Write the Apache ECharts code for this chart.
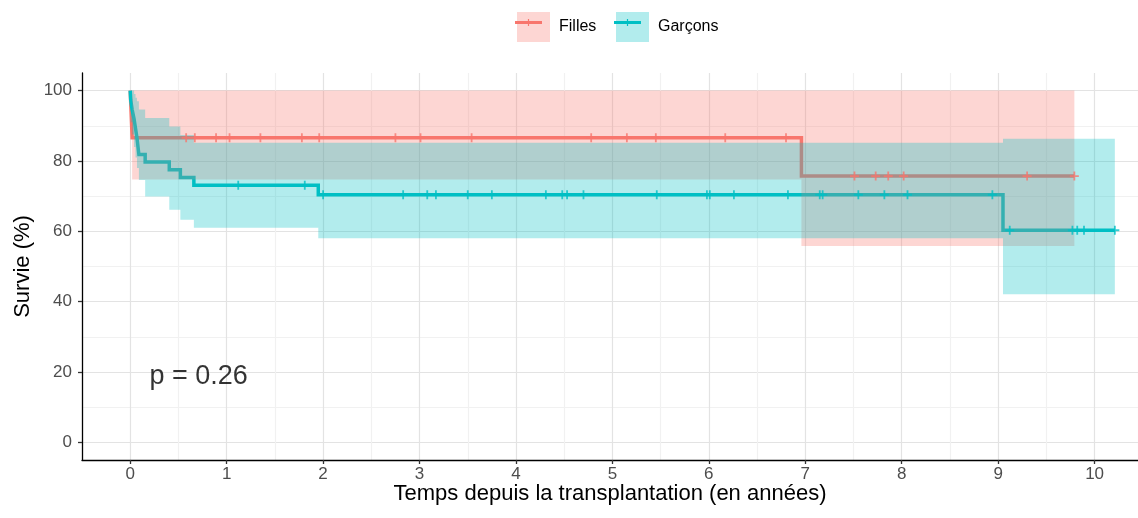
<!DOCTYPE html>
<html>
<head>
<meta charset="utf-8">
<script src="https://cdn.jsdelivr.net/npm/echarts@6/dist/echarts.min.js"></script>
<style>html,body{margin:0;padding:0;background:#fff}#c{width:1138px;height:518px}</style>
</head>
<body>
<div id="c"></div>
<script>
// ---- data ----
const groups = ['Filles', 'Garçons'];
const xTicks = [0, 1, 2, 3, 4, 5, 6, 7, 8, 9, 10];
const yTicks = [0, 20, 40, 60, 80, 100];

// Filles : Kaplan-Meier steps (time in years, survival %)
const fillesTime  = [0, 0.02, 6.96, 9.79];
const fillesSurv  = [100, 86.6, 75.7, 75.7];
const fillesUpper = [100, 100, 100, 100];
const fillesLower = [100, 74.7, 55.8, 55.8];
const fillesCensor = [0.58, 0.67, 0.89, 1.03, 1.35, 1.78, 1.96, 2.75, 3.01, 3.54, 4.78, 5.15, 5.45, 6.17, 6.80,
                      7.51, 7.73, 7.86, 8.02, 9.30, 9.79];

// Garçons
const garconsTime  = [0, 0.005, 0.02, 0.04, 0.055, 0.07, 0.09, 0.155, 0.405, 0.52, 0.66, 1.95, 9.05, 10.21];
const garconsSurv  = [100, 97.3, 94.6, 91.9, 89.2, 86.5, 81.8, 79.7, 77.5, 75.3, 73.1, 70.4, 60.3, 60.3];
const garconsUpper = [100, 100, 100, 99, 98, 97, 94.6, 92.2, 89.8, 87.4, 85.2, 85.2, 86.3, 86.3];
const garconsLower = [100, 91, 87.5, 84, 81, 78, 74.6, 69.9, 66.1, 63.3, 61.0, 58.0, 42.1, 42.1];
const garconsCensor = [1.12, 1.81, 2.00, 2.83, 3.08, 3.17, 3.50, 3.75, 4.31, 4.48, 4.53, 4.70, 5.46, 5.98, 6.01,
                       6.26, 6.82, 7.15, 7.18, 7.55, 7.82, 8.06, 8.94, 9.12, 9.77, 9.82, 9.89, 10.21];

const pText = 'p = 0.26';
const pPos = [0.2, 18.8];

// ---- helpers ----
const FONT = 'Liberation Sans, Arial, Helvetica, sans-serif';
const lineColors = ['#F8766D', '#00BFC4'];
const bandColors = ['rgba(248,118,109,0.3)', 'rgba(0,191,196,0.3)'];
const plusPath = 'path://M3.6,0 H5.4 V3.6 H9 V5.4 H5.4 V9 H3.6 V5.4 H0 V3.6 H3.6 Z';

function zip(a, b) { return a.map((v, i) => [v, b[i]]); }
function survAt(times, surv, t) {
  let v = surv[0];
  for (let i = 0; i < times.length; i++) { if (times[i] <= t + 1e-9) v = surv[i]; }
  return v;
}
function bandSeries(name, times, lower, upper, color) {
  return {
    type: 'custom', name: name, z: 3, silent: true, clip: true,
    itemStyle: { color: color },
    data: [[times[0], upper[0]]],
    renderItem: function (params, api) {
      const pts = [];
      const n = times.length;
      for (let i = 0; i < n; i++) {
        const x1 = i < n - 1 ? times[i + 1] : times[i];
        pts.push(api.coord([times[i], upper[i]]), api.coord([x1, upper[i]]));
      }
      for (let i = n - 1; i >= 0; i--) {
        const x1 = i < n - 1 ? times[i + 1] : times[i];
        pts.push(api.coord([x1, lower[i]]), api.coord([times[i], lower[i]]));
      }
      return { type: 'polygon', shape: { points: pts }, style: { fill: color } };
    }
  };
}
function curveSeries(name, times, surv, color) {
  return {
    type: 'line', name: name + ' courbe', step: 'end', z: 2, silent: true,
    data: zip(times, surv), symbol: 'none', showSymbol: false,
    lineStyle: { width: 3.5, color: color, join: 'miter' }, itemStyle: { color: color }
  };
}
function censorSeries(name, censor, times, surv, color) {
  return {
    type: 'scatter', name: name + ' censure', z: 4, silent: true,
    data: censor.map(t => [t, survAt(times, surv, t)]),
    symbol: plusPath, symbolSize: 9, itemStyle: { color: color }
  };
}

const axisLineStyle = { color: '#000', width: 1.3 };
const tickStyle = { color: '#333', width: 1.3 };

const option = {
  animation: false,
  backgroundColor: '#fff',
  textStyle: { fontFamily: FONT },
  grid: { left: 82, right: 0, top: 73, bottom: 58, containLabel: false, outerBoundsMode: 'none' },
  legend: [
    {
      left: 512, top: 7, itemWidth: 33, itemHeight: 30, icon: 'rect', selectedMode: false,
      textStyle: { fontSize: 16, color: '#000', fontFamily: FONT, padding: [0, 0, 0, 4] },
      data: [{ name: groups[0], itemStyle: { color: bandColors[0] } }]
    },
    {
      left: 611, top: 7, itemWidth: 33, itemHeight: 30, icon: 'rect', selectedMode: false,
      textStyle: { fontSize: 16, color: '#000', fontFamily: FONT, padding: [0, 0, 0, 4] },
      data: [{ name: groups[1], itemStyle: { color: bandColors[1] } }]
    }
  ],
  graphic: [
    { type: 'rect', z: 100, shape: { x: 515, y: 21, width: 27, height: 3 }, style: { fill: lineColors[0] } },
    { type: 'rect', z: 100, shape: { x: 527.9, y: 19, width: 1.2, height: 7 }, style: { fill: lineColors[0] } },
    { type: 'rect', z: 100, shape: { x: 614, y: 21, width: 27, height: 3 }, style: { fill: lineColors[1] } },
    { type: 'rect', z: 100, shape: { x: 626.9, y: 19, width: 1.2, height: 7 }, style: { fill: lineColors[1] } }
  ],
  xAxis: [
    {
      type: 'value', min: -0.5, max: 10.45, interval: 0.5,
      axisLine: { show: true, onZero: false, lineStyle: axisLineStyle },
      axisTick: { show: false }, axisLabel: { show: false },
      splitLine: { show: true, lineStyle: { color: ['#f1f1f1', '#e3e3e3'], width: 1.2 } },
      name: 'Temps depuis la transplantation (en années)', nameLocation: 'middle', nameGap: 23,
      nameTextStyle: { fontSize: 22, color: '#000', fontFamily: FONT }
    },
    {
      type: 'value', min: -0.5, max: 10.45, position: 'bottom',
      axisLine: { show: false, onZero: false },
      axisTick: { show: true, customValues: xTicks, length: 4, lineStyle: tickStyle },
      axisLabel: { show: true, customValues: xTicks, margin: 6, fontSize: 17, color: '#4D4D4D', fontFamily: FONT },
      splitLine: { show: false }
    }
  ],
  yAxis: [
    {
      type: 'value', min: -5, max: 105, interval: 5,
      axisLine: { show: true, onZero: false, lineStyle: axisLineStyle },
      axisTick: { show: false }, axisLabel: { show: false },
      splitLine: { show: true, lineStyle: { color: ['rgba(0,0,0,0)', '#e3e3e3', 'rgba(0,0,0,0)', '#f1f1f1'], width: 1.2 } },
      name: 'Survie (%)', nameLocation: 'middle', nameGap: 48,
      nameTextStyle: { fontSize: 22, color: '#000', fontFamily: FONT }
    },
    {
      type: 'value', min: -5, max: 105, position: 'left',
      axisLine: { show: false, onZero: false },
      axisTick: { show: true, customValues: yTicks, length: 4, lineStyle: tickStyle },
      axisLabel: { show: true, customValues: yTicks, margin: 10, fontSize: 17, color: '#4D4D4D', fontFamily: FONT },
      splitLine: { show: false }
    }
  ],
  series: [
    curveSeries(groups[0], fillesTime, fillesSurv, lineColors[0]),
    curveSeries(groups[1], garconsTime, garconsSurv, lineColors[1]),
    bandSeries(groups[0], fillesTime, fillesLower, fillesUpper, bandColors[0]),
    bandSeries(groups[1], garconsTime, garconsLower, garconsUpper, bandColors[1]),
    censorSeries(groups[0], fillesCensor, fillesTime, fillesSurv, lineColors[0]),
    censorSeries(groups[1], garconsCensor, garconsTime, garconsSurv, lineColors[1]),
    {
      type: 'scatter', name: 'p', z: 5, silent: true, symbolSize: 0,
      data: [pPos],
      label: { show: true, position: 'right', distance: 0, formatter: pText, fontSize: 27, color: '#000', fontFamily: FONT }
    }
  ]
};

const chart = echarts.init(document.getElementById('c'), null, { renderer: 'canvas' });
chart.setOption(option);
</script>
</body>
</html>
